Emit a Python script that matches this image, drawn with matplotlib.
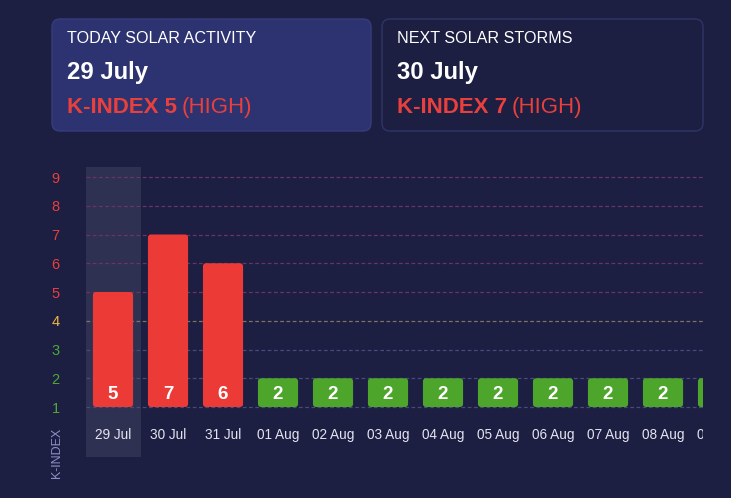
## solar activity k-index chart

import numpy as np
import matplotlib
matplotlib.use('agg')
from matplotlib import pyplot as plt
from matplotlib.patches import FancyBboxPatch

plt.rcParams['font.family'] = ['Liberation Sans', 'DejaVu Sans']

# data
dates = ['29 Jul', '30 Jul', '31 Jul', '01 Aug', '02 Aug', '03 Aug', '04 Aug',
         '05 Aug', '06 Aug', '07 Aug', '08 Aug', '09 Aug']
kindex = [5, 7, 6, 2, 2, 2, 2, 2, 2, 2, 2, 2]
today_date = '29 July'
today_k = 5
storm_date = '30 July'
storm_k = 7
level = 'HIGH'

BG = '#1c1e42'
RED = '#ec3a36'
GREEN = '#4ea52b'
TXT_RED = '#e8403c'


def tick_color(v):
    if v >= 5:
        return TXT_RED
    if v == 4:
        return '#f0b640'
    return '#4caa35'


def grid_color(v):
    if v >= 5:
        return '#6b3563'
    if v == 4:
        return '#7d7466'
    return '#464b78'


W, H = 731, 498
fig = plt.figure(figsize=(W / 100, H / 100), dpi=100)
fig.patch.set_facecolor(BG)

# --- background axes in pixel coords for the cards ---
bg = fig.add_axes([0, 0, 1, 1])
bg.set_xlim(0, W)
bg.set_ylim(H, 0)
bg.axis('off')

cards = [
    (52, 19, 319, 112, '#2d3370', '#363d7c', 'TODAY SOLAR ACTIVITY', today_date, today_k),
    (382, 19, 321, 112, BG, '#2f3568', 'NEXT SOLAR STORMS', storm_date, storm_k),
]
for (cx, cy, cw, ch, fc, ec, title, date, k) in cards:
    bg.add_patch(FancyBboxPatch((cx + 8, cy + 8), cw - 16, ch - 16,
                                boxstyle='round,pad=8', fc=fc, ec=ec, lw=1))
    tx = cx + 15
    bg.text(tx, 38, title, color='white', fontsize=11.6, va='center', ha='left')
    bg.text(tx, 72, date, color='white', fontsize=17.2, fontweight='bold',
            va='center', ha='left')
    t1 = bg.text(tx, 107, f'K-INDEX {k}', color=TXT_RED, fontsize=16,
                 fontweight='bold', va='center', ha='left')
    bg.annotate(f'({level})', xy=(1, 0), xycoords=t1, xytext=(3.5, 0),
                textcoords='offset points', color=TXT_RED, fontsize=16,
                va='bottom', ha='left')

# --- chart axes ---
left, right, top, bottom = 86, 703, 167, 457
ax = fig.add_axes([left / W, (H - bottom) / H, (right - left) / W, (bottom - top) / H])
ax.set_facecolor('none')
x = np.arange(len(dates))
ax.set_xlim(-0.491, 10.727)
ax.set_ylim(-0.739, 9.348)

# highlight for today
ax.axvspan(-0.5, 0.5, color='#ffffff', alpha=0.085, lw=0, zorder=0)

# grid lines
for v in range(1, 10):
    ax.axhline(v, color=grid_color(v), lw=0.9, ls=(0, (3, 2)), zorder=1)

# bars with small rounded corners
bw = 0.73
r = 0.055
asp = 55 / 28.75
for xi, k in zip(x, kindex):
    col = RED if k >= 5 else GREEN
    ax.add_patch(FancyBboxPatch((xi - bw / 2 + r, 1 + r * asp), bw - 2 * r,
                                (k - 1) - 2 * r * asp,
                                boxstyle=f'round,pad={r}', mutation_aspect=asp,
                                fc=col, ec='none', zorder=2))
    ax.text(xi, 1.42, str(k), color='white', fontsize=13.5, fontweight='bold',
            ha='center', va='center', zorder=3, clip_on=True)
    ax.text(xi, 0.03, dates[xi], color='#e4e4f0', fontsize=9.8,
            ha='center', va='center', zorder=3, clip_on=True)

ax.set_xticks([])
ax.set_yticks(range(1, 10))
ax.tick_params(axis='y', length=0, pad=19, labelsize=10.5)
for lbl, v in zip(ax.get_yticklabels(), range(1, 10)):
    lbl.set_color(tick_color(v))
for s in ax.spines.values():
    s.set_visible(False)

fig.text(57 / W, (H - 453) / H, 'K-INDEX', rotation=90, color='#8e92c6',
         fontsize=9, ha='center', va='center')

fig.savefig('out.png', dpi=100, facecolor=BG)
